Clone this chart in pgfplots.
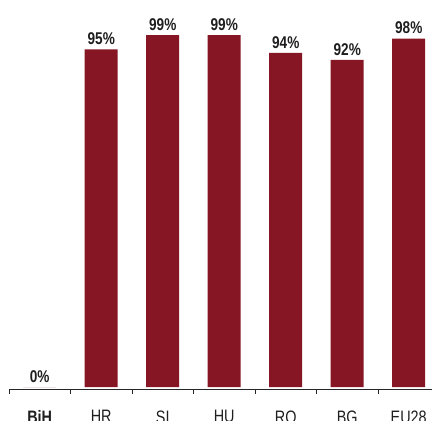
\documentclass[border=0pt]{standalone}
\usepackage{pgfplots}
\pgfplotsset{compat=1.18}
\usepackage{fontspec}
\setmainfont{Liberation Sans}
\newfontfamily\narrow[FakeStretch=0.8]{Liberation Sans}
\definecolor{barred}{RGB}{134,22,35}
\definecolor{txt}{RGB}{30,30,30}
\begin{document}
\begin{tikzpicture}
\clip (0,0) rectangle (432pt,421pt);
\begin{axis}[
  at={(9pt,32pt)}, anchor=south west,
  scale only axis, width=430.5pt, height=357.5pt,
  xmin=-0.5, xmax=6.5, ymin=-0.55, ymax=100,
  axis x line*=bottom, axis y line=none,
  x axis line style={-, line width=0.9pt, color=black!85},
  xtick={0,...,6},
  xticklabels={\textbf{BiH},HR,SI,HU,RO,BG,EU28},
  major tick length=0pt,
  minor xtick={-0.5,0.5,...,6.5},
  minor tick length=5pt,
  tick align=outside,
  minor tick style={line width=0.9pt, color=black!85},
  xticklabel style={font=\narrow\fontsize{18}{18}\selectfont, text=txt, anchor=north, yshift=-18pt},
  ybar, bar width=33pt, bar shift=0pt,
  point meta=explicit symbolic,
  nodes near coords={\pgfplotspointmeta\%},
  nodes near coords style={font=\narrow\bfseries\fontsize{17}{17}\selectfont, text=txt, anchor=south, yshift=1pt},
]
\addplot[fill=barred, draw=none] coordinates {
  (0,0) [0] (1,95) [95] (2,99) [99] (3,99) [99] (4,94) [94] (5,92) [92] (6,98) [98]
};
\end{axis}
\end{tikzpicture}
\end{document}
